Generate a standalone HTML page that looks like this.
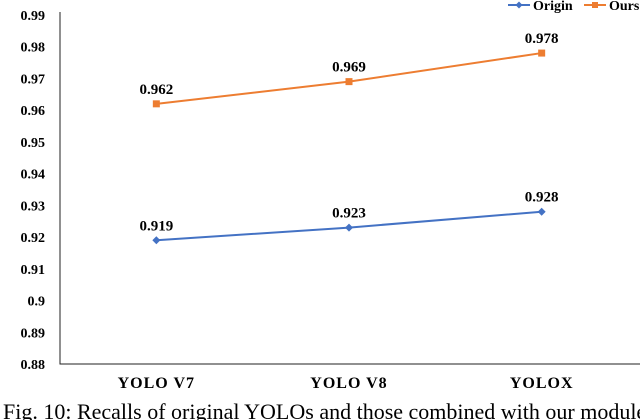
<!DOCTYPE html>
<html><head><meta charset="utf-8"><style>
html,body{margin:0;padding:0;background:#fff;width:640px;height:420px;overflow:hidden}
svg{display:block}
text{font-family:"Liberation Serif",serif;font-weight:bold;fill:#000}
</style></head><body>
<svg id="chart" width="640" height="420">
<g id="yticks"></g>
<g id="xticks"></g>
<g id="series"></g>
<g>
 <g>
  <line x1="508" y1="5" x2="530" y2="5" stroke="#4472C4" stroke-width="2"/>
  <path d="M519 1.5 L522.5 5 L519 8.5 L515.5 5Z" fill="#4472C4"/>
  <text x="533" y="10" font-size="14">Origin</text>
 </g>
 <g>
  <line x1="584" y1="5" x2="606" y2="5" stroke="#ED7D31" stroke-width="2"/>
  <rect x="592" y="2" width="6" height="6" fill="#ED7D31"/>
  <text x="609" y="10" font-size="14">Ours</text>
 </g>
</g>
<text x="3" y="419" font-size="22" style="font-weight:normal">Fig. 10: Recalls of original YOLOs and those combined with our module</text>
</svg>
<script>
const categories=["YOLO V7","YOLO V8","YOLOX"];
const originValues=[0.919,0.923,0.928];
const oursValues=[0.962,0.969,0.978];
const yTickValues=[0.88,0.89,0.9,0.91,0.92,0.93,0.94,0.95,0.96,0.97,0.98,0.99];
const yTickLabels=["0.88","0.89","0.9","0.91","0.92","0.93","0.94","0.95","0.96","0.97","0.98","0.99"];
const NS="http://www.w3.org/2000/svg";
const L=60,R=638,T=15,B=364,yMin=0.88,yMax=0.99;
const y=v=>B-(v-yMin)/(yMax-yMin)*(B-T);
const bw=(R-L)/categories.length;
const x=i=>L+bw*(i+0.5);
function mk(tag,attrs,parent){const e=document.createElementNS(NS,tag);for(const k in attrs)e.setAttribute(k,attrs[k]);parent.appendChild(e);return e;}
const yg=document.getElementById('yticks'),xg=document.getElementById('xticks'),sg=document.getElementById('series');
yTickValues.forEach((v,i)=>{const t=mk('text',{x:45,y:y(v)+5,'font-size':'14','text-anchor':'end'},yg);t.textContent=yTickLabels[i];

});
const ax=mk('path',{d:`M${L} ${T-3} V${B} H${R+2}`,stroke:'#222','stroke-width':'1',fill:'none'},yg);


categories.forEach((c,i)=>{const t=mk('text',{x:x(i),y:B+24,'font-size':'16','letter-spacing':'1','text-anchor':'middle'},xg);t.textContent=c;

});
function draw(vals,color,name,square){
 const p=mk('polyline',{points:vals.map((v,i)=>x(i)+','+y(v)).join(' '),fill:'none',stroke:color,'stroke-width':'2'},sg);
 
 
 vals.forEach((v,i)=>{const cx=x(i),cy=y(v);let m;
  if(square)m=mk('rect',{x:cx-3.5,y:cy-3.5,width:7,height:7,fill:color},sg);
  else m=mk('path',{d:`M${cx} ${cy-4}L${cx+4} ${cy}L${cx} ${cy+4}L${cx-4} ${cy}Z`,fill:color},sg);
  
  
  const t=mk('text',{x:cx,y:cy-10,'font-size':'15','text-anchor':'middle'},sg);t.textContent=v.toFixed(3);
  
  });
}
draw(originValues,'#4472C4','origin',false);
draw(oursValues,'#ED7D31','ours',true);
</script>
</body></html>
